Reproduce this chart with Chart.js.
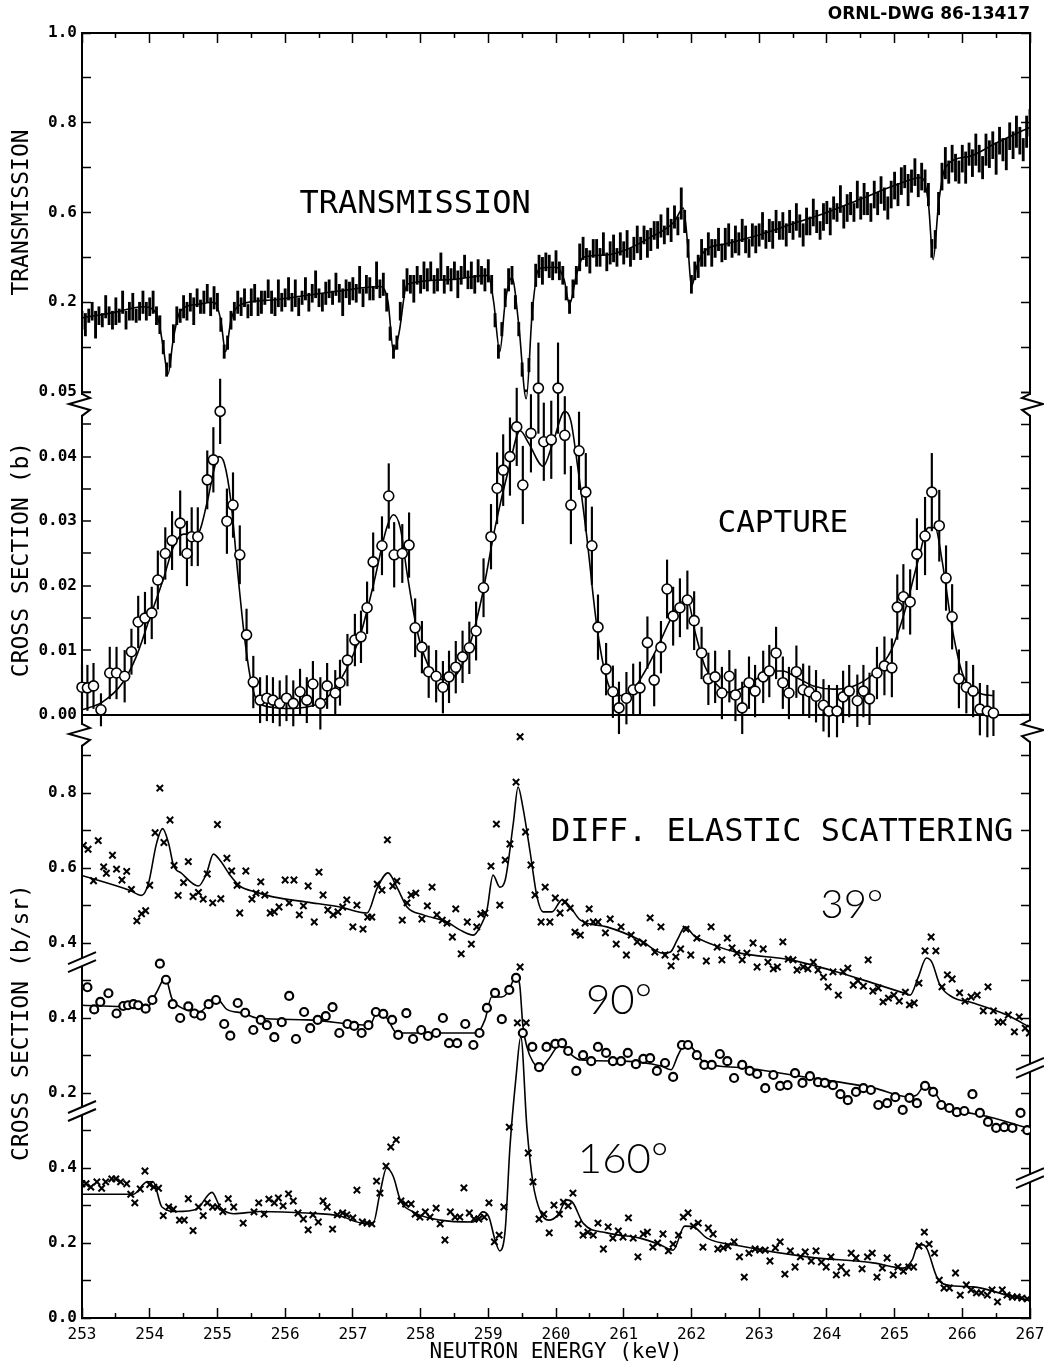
<!DOCTYPE html>
<html>
<head>
<meta charset="utf-8">
<title>ORNL-DWG 86-13417</title>
<script src="https://cdn.jsdelivr.net/npm/chart.js@4.4.1/dist/chart.umd.min.js"></script>
<style>
  html, body { margin: 0; padding: 0; background: #fff; }
  canvas { display: block; }
</style>
</head>
<body>
<canvas id="chart" width="1044" height="1363"></canvas>
<script>
// ---- tick positions and printed labels ----
const energyTicks = [253, 254, 255, 256, 257, 258, 259, 260, 261, 262, 263, 264, 265, 266, 267];
const energyHalfTicks = [253.5, 254.5, 255.5, 256.5, 257.5, 258.5, 259.5, 260.5, 261.5, 262.5, 263.5, 264.5, 265.5, 266.5];
const transTicks = [0.2, 0.3, 0.4, 0.5, 0.6, 0.7, 0.8, 0.9, 1.0];
const transLabels = ['', '', '0.2', '', '0.6', '', '0.8', '', '1.0'];
const capTicks = [0, 0.005, 0.01, 0.015, 0.02, 0.025, 0.03, 0.035, 0.04, 0.045, 0.05];
const capLabels = ['0.00', '', '0.01', '', '0.02', '', '0.03', '', '0.04', '', '0.05'];
// elastic panel: 160° on its own scale, 90° and 39° drawn on shifted scales
const elTicks = [0, 0.1, 0.2, 0.3, 0.4, 0.5, 0.6, 0.7, 0.8, 0.9, 1.0, 1.1, 1.2, 1.3, 1.4, 1.5];
const elLabels = ['0.0', '', '0.2', '', '0.4', '', '0.2', '', '0.4', '', '0.4', '', '0.6', '', '0.8', ''];

// ---- transmission: channels every 0.05 keV from 253 keV ----
const transStart = 253, transStep = 0.05;
const transVal = [
  0.36,0.35,0.37,0.38,0.35,0.37,0.36,0.39,0.37,0.36,0.38,0.37,0.40,0.36,0.38,0.39,0.37,0.38,0.40,0.38,
  0.39,0.40,0.37,0.35,0.30,0.25,0.27,0.33,0.37,0.37,0.39,0.38,0.40,0.38,0.41,0.39,0.40,0.42,0.39,0.41,
  0.40,0.35,0.29,0.31,0.36,0.38,0.40,0.39,0.41,0.38,0.40,0.42,0.39,0.40,0.41,0.43,0.40,0.39,0.42,0.40,
  0.41,0.43,0.40,0.42,0.39,0.41,0.43,0.40,0.42,0.44,0.41,0.40,0.42,0.43,0.41,0.44,0.42,0.40,0.43,0.42,
  0.43,0.42,0.45,0.41,0.44,0.43,0.42,0.46,0.43,0.44,0.40,0.33,0.29,0.31,0.38,0.43,0.45,0.44,0.43,0.46,
  0.44,0.46,0.45,0.47,0.44,0.45,0.48,0.44,0.46,0.45,0.47,0.44,0.46,0.48,0.45,0.46,0.44,0.47,0.46,0.45,
  0.47,0.44,0.36,0.29,0.34,0.41,0.45,0.46,0.40,0.34,0.25,0.19,0.26,0.38,0.46,0.48,0.47,0.49,0.48,0.47,
  0.49,0.47,0.46,0.42,0.39,0.43,0.46,0.50,0.52,0.50,0.49,0.52,0.51,0.50,0.53,0.49,0.51,0.52,0.50,0.53,
  0.51,0.53,0.50,0.52,0.54,0.52,0.55,0.53,0.54,0.56,0.55,0.57,0.55,0.58,0.56,0.59,0.57,0.62,0.58,0.52,
  0.44,0.47,0.48,0.51,0.50,0.53,0.51,0.52,0.54,0.51,0.53,0.55,0.52,0.54,0.53,0.56,0.54,0.52,0.55,0.54,
  0.55,0.57,0.54,0.56,0.55,0.58,0.56,0.57,0.55,0.58,0.56,0.59,0.57,0.55,0.58,0.57,0.60,0.58,0.56,0.59,
  0.60,0.58,0.61,0.60,0.63,0.59,0.61,0.62,0.60,0.64,0.61,0.63,0.62,0.60,0.64,0.62,0.65,0.63,0.61,0.64,
  0.66,0.64,0.67,0.68,0.65,0.67,0.69,0.66,0.68,0.67,0.64,0.52,0.54,0.62,0.68,0.71,0.69,0.72,0.70,0.69,
  0.72,0.70,0.73,0.71,0.74,0.72,0.70,0.74,0.73,0.75,0.72,0.76,0.74,0.73,0.77,0.75,0.78,0.76,0.74,0.78,
  0.80
];
const transErr = [
  .02,.025,.015,.02,.03,.02,.015,.025,.02,.02,.03,.015,.025,.02,.02,.03,.015,.02,.025,.02,
  .02,.025,.02,.02,.015,.015,.015,.02,.02,.015,.025,.02,.02,.03,.02,.015,.025,.02,.02,.025,
  .02,.015,.015,.015,.02,.02,.025,.02,.02,.015,.03,.02,.02,.025,.015,.02,.025,.02,.03,.02,
  .02,.025,.02,.03,.02,.015,.025,.02,.02,.03,.02,.02,.025,.02,.015,.025,.02,.03,.02,.025,
  .025,.02,.03,.02,.02,.025,.015,.03,.02,.025,.02,.015,.015,.015,.02,.02,.025,.02,.03,.02,
  .02,.03,.025,.02,.02,.025,.03,.02,.02,.025,.02,.03,.02,.025,.02,.03,.02,.025,.02,.025,
  .025,.02,.015,.015,.015,.02,.025,.02,.015,.015,.015,.015,.015,.02,.025,.025,.03,.02,.025,.02,
  .025,.02,.02,.015,.015,.02,.02,.03,.025,.02,.025,.02,.03,.02,.025,.02,.025,.03,.02,.025,
  .025,.03,.02,.025,.03,.025,.02,.03,.025,.02,.03,.025,.02,.03,.025,.025,.02,.035,.025,.02,
  .02,.02,.025,.03,.02,.025,.03,.02,.025,.02,.035,.025,.02,.03,.025,.025,.03,.02,.025,.03,
  .025,.03,.02,.025,.03,.025,.02,.03,.025,.025,.02,.03,.025,.025,.03,.02,.03,.025,.02,.03,
  .025,.03,.025,.02,.03,.025,.03,.025,.02,.03,.025,.035,.025,.02,.03,.025,.03,.025,.025,.03,
  .03,.025,.03,.025,.035,.025,.03,.025,.03,.025,.025,.02,.02,.025,.03,.035,.025,.03,.03,.025,
  .03,.035,.025,.03,.035,.03,.025,.035,.03,.03,.035,.03,.025,.035,.03,.03,.035,.03,.025,.035,
  .03
];
const transFit = [
  [253.0,0.365],[253.5,0.378],[253.9,0.390],[254.1,0.375],[254.2,0.300],[254.27,0.240],[254.35,0.320],
  [254.45,0.380],[254.7,0.395],[254.95,0.400],[255.05,0.360],[255.12,0.290],[255.2,0.360],[255.35,0.395],
  [255.8,0.405],[256.3,0.415],[256.8,0.425],[257.4,0.435],[257.52,0.400],[257.6,0.290],[257.68,0.330],
  [257.8,0.440],[258.4,0.450],[259.0,0.460],[259.08,0.400],[259.17,0.290],[259.25,0.400],[259.35,0.455],
  [259.45,0.350],[259.56,0.185],[259.65,0.380],[259.75,0.475],[260.0,0.478],[260.12,0.450],[260.2,0.395],
  [260.3,0.460],[260.4,0.500],[260.7,0.505],[261.0,0.515],[261.4,0.545],[261.75,0.580],[261.88,0.610],
  [261.95,0.520],[262.0,0.435],[262.08,0.480],[262.2,0.515],[262.5,0.530],[263.0,0.550],[263.5,0.575],
  [264.0,0.600],[264.5,0.630],[265.0,0.660],[265.4,0.678],[265.5,0.620],[265.57,0.495],[265.65,0.620],
  [265.75,0.700],[266.1,0.725],[266.5,0.755],[267.0,0.790]
];

// ---- capture: [energy keV, cross section b, error b] ----
const capture = [
  [253.00,0.0043,0.0035],[253.08,0.0042,0.0035],[253.17,0.0045,0.0035],[253.28,0.0008,0.0025],[253.41,0.0065,0.004],
  [253.51,0.0065,0.004],[253.63,0.0060,0.004],[253.73,0.0098,0.0035],[253.83,0.0144,0.004],[253.93,0.0150,0.004],
  [254.03,0.0158,0.004],[254.12,0.0209,0.0045],[254.23,0.0250,0.004],[254.33,0.0270,0.0045],[254.45,0.0297,0.005],
  [254.55,0.0250,0.005],[254.62,0.0276,0.0045],[254.71,0.0276,0.0045],[254.85,0.0364,0.0045],[254.94,0.0395,0.005],
  [255.04,0.0470,0.005],[255.14,0.0300,0.005],[255.23,0.0325,0.005],[255.33,0.0248,0.0045],[255.43,0.0124,0.004],
  [255.53,0.0051,0.004],[255.63,0.0023,0.0035],[255.73,0.0026,0.0035],[255.82,0.0023,0.0035],[255.92,0.0018,0.0035],
  [256.02,0.0026,0.0035],[256.12,0.0018,0.0035],[256.22,0.0036,0.0035],[256.32,0.0023,0.0035],[256.41,0.0048,0.0035],
  [256.52,0.0018,0.004],[256.62,0.0045,0.0035],[256.74,0.0034,0.0035],[256.81,0.0050,0.0035],[256.92,0.0085,0.004],
  [257.03,0.0116,0.004],[257.12,0.0121,0.004],[257.21,0.0166,0.004],[257.30,0.0237,0.0045],[257.43,0.0262,0.0045],
  [257.53,0.0339,0.005],[257.61,0.0248,0.005],[257.73,0.0250,0.0045],[257.83,0.0263,0.005],[257.92,0.0135,0.0045],
  [258.02,0.0105,0.004],[258.12,0.0067,0.004],[258.23,0.0060,0.004],[258.33,0.0043,0.004],[258.42,0.0059,0.004],
  [258.52,0.0074,0.004],[258.62,0.0090,0.004],[258.72,0.0104,0.004],[258.82,0.0130,0.0045],[258.93,0.0197,0.0045],
  [259.04,0.0276,0.005],[259.13,0.0351,0.0055],[259.22,0.0379,0.0055],[259.32,0.0400,0.006],[259.42,0.0446,0.006],
  [259.51,0.0356,0.006],[259.63,0.0436,0.006],[259.74,0.0506,0.007],[259.82,0.0423,0.006],[259.93,0.0426,0.006],
  [260.03,0.0506,0.007],[260.13,0.0433,0.006],[260.22,0.0325,0.006],[260.34,0.0409,0.006],[260.44,0.0345,0.006],
  [260.53,0.0262,0.006],[260.62,0.0136,0.005],[260.74,0.0071,0.004],[260.84,0.0036,0.004],[260.93,0.0011,0.004],
  [261.04,0.0026,0.004],[261.14,0.0039,0.004],[261.24,0.0042,0.004],[261.35,0.0112,0.004],[261.45,0.0054,0.004],
  [261.55,0.0105,0.004],[261.64,0.0195,0.0045],[261.73,0.0153,0.0045],[261.83,0.0166,0.0045],[261.94,0.0178,0.0045],
  [262.04,0.0146,0.0045],[262.15,0.0096,0.004],[262.25,0.0056,0.004],[262.35,0.0059,0.004],[262.45,0.0034,0.004],
  [262.56,0.0060,0.004],[262.65,0.0031,0.004],[262.75,0.0011,0.004],[262.85,0.0050,0.004],[262.94,0.0037,0.004],
  [263.06,0.0059,0.004],[263.15,0.0068,0.004],[263.25,0.0096,0.004],[263.35,0.0050,0.004],[263.44,0.0034,0.004],
  [263.55,0.0067,0.004],[263.65,0.0039,0.004],[263.74,0.0036,0.004],[263.84,0.0029,0.004],[263.95,0.0015,0.004],
  [264.03,0.0006,0.004],[264.15,0.0006,0.004],[264.24,0.0028,0.004],[264.33,0.0037,0.004],[264.45,0.0022,0.004],
  [264.54,0.0037,0.004],[264.63,0.0025,0.004],[264.74,0.0065,0.004],[264.85,0.0076,0.0045],[264.96,0.0073,0.0045],
  [265.04,0.0167,0.005],[265.13,0.0183,0.005],[265.23,0.0175,0.005],[265.33,0.0249,0.0055],[265.45,0.0277,0.006],
  [265.55,0.0345,0.006],[265.66,0.0293,0.0055],[265.76,0.0212,0.005],[265.85,0.0152,0.005],[265.95,0.0056,0.0045],
  [266.06,0.0043,0.004],[266.16,0.0037,0.004],[266.26,0.0009,0.004],[266.37,0.0006,0.004],[266.46,0.0003,0.0035]
];
const captureFit = [
  [253.0,0.0008],[253.3,0.002],[253.6,0.005],[253.8,0.009],[254.0,0.015],[254.2,0.021],[254.35,0.026],[254.5,0.028],
  [254.7,0.028],[254.85,0.033],[254.95,0.038],[255.02,0.040],[255.1,0.039],[255.2,0.033],[255.3,0.022],[255.4,0.012],
  [255.5,0.005],[255.6,0.002],[255.8,0.0012],[256.0,0.001],[256.3,0.0012],[256.6,0.0025],[256.9,0.007],[257.1,0.012],
  [257.3,0.020],[257.5,0.029],[257.6,0.031],[257.7,0.029],[257.8,0.022],[257.95,0.013],[258.1,0.008],[258.3,0.0055],
  [258.5,0.006],[258.7,0.010],[258.9,0.018],[259.1,0.029],[259.3,0.038],[259.47,0.044],[259.6,0.042],[259.81,0.0385],
  [259.95,0.042],[260.13,0.047],[260.22,0.0455],[260.3,0.040],[260.45,0.028],[260.6,0.014],[260.75,0.0055],[260.9,0.003],
  [261.1,0.0035],[261.3,0.0065],[261.5,0.0105],[261.7,0.015],[261.85,0.0175],[261.95,0.0175],[262.05,0.013],[262.2,0.0075],
  [262.35,0.005],[262.55,0.0035],[262.75,0.0042],[263.0,0.0058],[263.2,0.0068],[263.35,0.0068],[263.55,0.0058],[263.8,0.0045],
  [264.1,0.004],[264.4,0.0045],[264.7,0.0065],[264.95,0.010],[265.15,0.016],[265.35,0.024],[265.5,0.029],[265.6,0.029],
  [265.7,0.024],[265.85,0.0135],[266.0,0.0065],[266.15,0.004],[266.3,0.0032],[266.45,0.003]
];

// ---- differential elastic scattering, b/sr: [energy keV, value] ----
const scat39 = [
  [253.02,0.660],[253.09,0.650],[253.17,0.566],[253.24,0.673],[253.32,0.603],[253.36,0.586],[253.45,0.634],[253.51,0.597],
  [253.59,0.568],[253.66,0.591],[253.73,0.543],[253.81,0.459],[253.88,0.478],[253.94,0.486],[254.00,0.554],[254.08,0.694],
  [254.15,0.813],[254.21,0.668],[254.30,0.728],[254.36,0.607],[254.42,0.527],[254.50,0.561],[254.57,0.617],[254.64,0.524],
  [254.72,0.535],[254.79,0.517],[254.85,0.584],[254.93,0.507],[255.00,0.716],[255.05,0.518],[255.14,0.626],[255.21,0.592],
  [255.29,0.554],[255.33,0.480],[255.42,0.592],[255.51,0.517],[255.57,0.533],[255.64,0.563],[255.70,0.528],[255.78,0.480],
  [255.84,0.483],[255.91,0.496],[256.00,0.568],[256.06,0.507],[256.13,0.568],[256.21,0.475],[256.27,0.499],[256.34,0.552],
  [256.43,0.456],[256.50,0.589],[256.56,0.528],[256.63,0.488],[256.71,0.475],[256.78,0.483],[256.85,0.496],[256.91,0.515],
  [257.00,0.443],[257.06,0.501],[257.15,0.437],[257.22,0.469],[257.28,0.469],[257.36,0.557],[257.43,0.541],[257.51,0.675],
  [257.59,0.552],[257.65,0.565],[257.73,0.461],[257.80,0.507],[257.86,0.528],[257.93,0.533],[258.02,0.464],[258.10,0.499],
  [258.17,0.549],[258.24,0.475],[258.32,0.461],[258.39,0.453],[258.47,0.416],[258.52,0.491],[258.60,0.371],[258.69,0.456],
  [258.75,0.397],[258.83,0.443],[258.89,0.477],[258.95,0.480],[259.04,0.605],[259.12,0.717],[259.17,0.501],[259.25,0.621],
  [259.32,0.664],[259.41,0.829],[259.47,0.950],[259.55,0.696],[259.63,0.608],[259.69,0.528],[259.78,0.456],[259.84,0.549],
  [259.91,0.456],[259.99,0.520],[260.06,0.480],[260.13,0.509],[260.21,0.493],[260.28,0.429],[260.36,0.421],[260.43,0.453],
  [260.49,0.491],[260.55,0.456],[260.62,0.456],[260.73,0.427],[260.80,0.464],[260.89,0.397],[260.96,0.443],[261.04,0.368],
  [261.11,0.421],[261.20,0.403],[261.29,0.400],[261.39,0.467],[261.46,0.376],[261.55,0.443],[261.61,0.368],[261.70,0.339],
  [261.77,0.363],[261.84,0.384],[261.92,0.437],[261.99,0.368],[262.08,0.413],[262.22,0.352],[262.29,0.443],[262.38,0.389],
  [262.45,0.355],[262.53,0.413],[262.60,0.387],[262.67,0.373],[262.75,0.355],[262.82,0.373],[262.91,0.400],[262.97,0.336],
  [263.06,0.384],[263.13,0.349],[263.21,0.331],[263.27,0.336],[263.35,0.403],[263.43,0.357],[263.50,0.355],[263.56,0.328],
  [263.65,0.336],[263.72,0.331],[263.80,0.349],[263.87,0.328],[263.95,0.309],[264.02,0.283],[264.09,0.323],[264.17,0.261],
  [264.24,0.323],[264.31,0.333],[264.39,0.288],[264.46,0.299],[264.54,0.285],[264.61,0.355],[264.68,0.272],[264.76,0.280],
  [264.83,0.243],[264.91,0.253],[264.99,0.261],[265.07,0.245],[265.16,0.269],[265.22,0.235],[265.29,0.240],[265.36,0.293],
  [265.45,0.379],[265.54,0.416],[265.61,0.379],[265.70,0.283],[265.78,0.315],[265.85,0.304],[265.96,0.267],[266.04,0.245],
  [266.13,0.256],[266.22,0.261],[266.31,0.219],[266.38,0.283],[266.46,0.219],[266.53,0.189],[266.60,0.189],[266.68,0.208],
  [266.77,0.163],[266.84,0.203],[266.93,0.173],[266.99,0.160]
];
const fit39 = [
  [253.00,0.580],[253.71,0.540],[253.88,0.527],[253.98,0.558],[254.10,0.665],[254.19,0.705],[254.28,0.665],[254.35,0.608],
  [254.47,0.586],[254.72,0.552],[254.84,0.586],[254.94,0.637],[255.04,0.620],[255.19,0.580],[255.33,0.552],[255.58,0.535],
  [255.82,0.523],[256.32,0.509],[256.81,0.496],[257.21,0.480],[257.36,0.547],[257.52,0.587],[257.65,0.549],[257.80,0.496],
  [258.04,0.475],[258.39,0.456],[258.58,0.435],[258.78,0.421],[258.88,0.443],[258.98,0.488],[259.07,0.581],[259.17,0.549],
  [259.25,0.568],[259.37,0.720],[259.44,0.816],[259.51,0.763],[259.62,0.640],[259.72,0.523],[259.81,0.483],[259.94,0.483],
  [260.09,0.515],[260.21,0.496],[260.36,0.461],[260.75,0.443],[261.24,0.408],[261.58,0.373],[261.69,0.376],[261.79,0.408],
  [261.91,0.443],[262.03,0.421],[262.32,0.395],[262.72,0.373],[263.46,0.355],[264.20,0.320],[264.68,0.293],[265.13,0.267],
  [265.23,0.261],[265.35,0.309],[265.47,0.360],[265.55,0.349],[265.67,0.288],[265.85,0.256],[266.16,0.240],[266.66,0.208],
  [267.00,0.175]
];
const scat90 = [
  [253.08,0.482],[253.18,0.423],[253.27,0.443],[253.39,0.466],[253.51,0.412],[253.61,0.432],[253.68,0.434],[253.76,0.437],
  [253.83,0.434],[253.94,0.425],[254.04,0.448],[254.15,0.545],[254.24,0.502],[254.34,0.437],[254.45,0.400],[254.57,0.431],
  [254.66,0.412],[254.76,0.406],[254.87,0.437],[254.98,0.448],[255.10,0.384],[255.19,0.353],[255.30,0.440],[255.41,0.414],
  [255.53,0.368],[255.64,0.395],[255.73,0.381],[255.84,0.349],[255.95,0.389],[256.06,0.459],[256.16,0.344],[256.28,0.416],
  [256.37,0.373],[256.48,0.395],[256.60,0.405],[256.70,0.429],[256.80,0.360],[256.92,0.384],[257.02,0.379],[257.13,0.360],
  [257.23,0.381],[257.34,0.416],[257.45,0.411],[257.58,0.395],[257.67,0.355],[257.79,0.413],[257.89,0.344],[258.01,0.368],
  [258.11,0.352],[258.23,0.360],[258.33,0.400],[258.42,0.333],[258.54,0.333],[258.66,0.384],[258.78,0.328],[258.87,0.360],
  [258.98,0.427],[259.10,0.467],[259.20,0.397],[259.31,0.475],[259.41,0.507],[259.51,0.360],[259.65,0.323],[259.75,0.269],
  [259.86,0.323],[259.99,0.331],[260.09,0.333],[260.18,0.312],[260.30,0.259],[260.40,0.301],[260.52,0.285],[260.62,0.323],
  [260.74,0.307],[260.84,0.285],[260.96,0.285],[261.06,0.307],[261.18,0.277],[261.29,0.291],[261.39,0.293],[261.49,0.259],
  [261.61,0.280],[261.73,0.243],[261.86,0.328],[261.95,0.328],[262.08,0.301],[262.19,0.275],[262.30,0.275],[262.42,0.304],
  [262.53,0.285],[262.63,0.240],[262.75,0.275],[262.86,0.259],[262.97,0.251],[263.09,0.213],[263.21,0.248],[263.31,0.219],
  [263.42,0.221],[263.53,0.253],[263.64,0.227],[263.75,0.245],[263.87,0.229],[263.97,0.227],[264.09,0.221],[264.20,0.197],
  [264.31,0.181],[264.43,0.203],[264.54,0.213],[264.65,0.208],[264.76,0.168],[264.89,0.173],[265.01,0.189],[265.12,0.155],
  [265.22,0.187],[265.33,0.173],[265.45,0.219],[265.57,0.203],[265.69,0.168],[265.81,0.160],[265.92,0.149],[266.03,0.152],
  [266.15,0.197],[266.26,0.147],[266.38,0.123],[266.50,0.107],[266.62,0.109],[266.74,0.107],[266.86,0.147],[266.96,0.101]
];
const fit90 = [
  [253.00,0.434],[253.96,0.429],[254.10,0.468],[254.23,0.507],[254.33,0.451],[254.45,0.429],[254.74,0.417],[254.89,0.440],
  [254.99,0.451],[255.14,0.423],[255.38,0.413],[255.58,0.400],[256.32,0.395],[257.25,0.381],[257.36,0.416],[257.50,0.400],
  [257.65,0.360],[258.30,0.360],[258.83,0.360],[258.95,0.395],[259.05,0.456],[259.20,0.456],[259.29,0.469],[259.40,0.507],
  [259.46,0.493],[259.51,0.381],[259.57,0.323],[259.66,0.283],[259.77,0.267],[259.88,0.288],[260.06,0.328],[260.18,0.309],
  [260.36,0.288],[261.00,0.285],[261.55,0.272],[261.70,0.262],[261.80,0.300],[261.90,0.328],[262.00,0.322],[262.20,0.280],
  [262.70,0.268],[263.70,0.242],[264.70,0.213],[265.20,0.190],[265.33,0.195],[265.45,0.221],[265.57,0.208],[265.70,0.173],
  [265.92,0.155],[266.40,0.136],[267.00,0.105]
];
const scat160 = [
  [253.00,0.358],[253.06,0.358],[253.13,0.349],[253.22,0.363],[253.29,0.346],[253.35,0.363],[253.44,0.371],[253.50,0.371],
  [253.57,0.363],[253.66,0.358],[253.72,0.330],[253.78,0.307],[253.86,0.344],[253.93,0.392],[254.00,0.356],[254.06,0.349],
  [254.13,0.346],[254.20,0.273],[254.28,0.296],[254.35,0.290],[254.44,0.261],[254.51,0.261],[254.57,0.318],[254.64,0.233],
  [254.72,0.296],[254.79,0.273],[254.85,0.307],[254.93,0.296],[255.00,0.296],[255.08,0.284],[255.16,0.318],[255.24,0.296],
  [255.38,0.253],[255.54,0.283],[255.61,0.307],[255.69,0.277],[255.76,0.317],[255.84,0.307],[255.90,0.320],[255.97,0.299],
  [256.05,0.331],[256.12,0.312],[256.19,0.280],[256.27,0.264],[256.34,0.235],[256.41,0.275],[256.49,0.256],[256.56,0.312],
  [256.62,0.296],[256.70,0.237],[256.77,0.275],[256.85,0.280],[256.91,0.275],[257.00,0.267],[257.06,0.341],[257.14,0.256],
  [257.21,0.253],[257.28,0.251],[257.35,0.365],[257.40,0.333],[257.49,0.405],[257.56,0.456],[257.64,0.475],[257.71,0.312],
  [257.78,0.304],[257.86,0.304],[257.92,0.277],[257.99,0.269],[258.07,0.283],[258.14,0.269],[258.23,0.293],[258.29,0.251],
  [258.36,0.208],[258.44,0.283],[258.51,0.269],[258.58,0.269],[258.64,0.347],[258.72,0.280],[258.79,0.264],[258.86,0.264],
  [258.94,0.269],[259.01,0.307],[259.09,0.203],[259.16,0.221],[259.23,0.296],[259.31,0.509],[259.43,0.787],[259.47,0.936],
  [259.56,0.787],[259.59,0.440],[259.66,0.363],[259.75,0.264],[259.82,0.277],[259.90,0.227],[259.97,0.301],[260.05,0.277],
  [260.11,0.309],[260.18,0.299],[260.25,0.333],[260.33,0.251],[260.40,0.221],[260.47,0.229],[260.55,0.221],[260.62,0.253],
  [260.70,0.184],[260.77,0.243],[260.84,0.213],[260.92,0.232],[260.99,0.216],[261.07,0.267],[261.14,0.213],[261.21,0.163],
  [261.29,0.224],[261.35,0.229],[261.43,0.189],[261.50,0.200],[261.58,0.224],[261.66,0.179],[261.73,0.197],[261.81,0.221],
  [261.88,0.269],[261.95,0.280],[262.03,0.245],[262.10,0.253],[262.17,0.189],[262.25,0.240],[262.32,0.224],[262.39,0.184],
  [262.47,0.187],[262.54,0.192],[262.63,0.203],[262.71,0.163],[262.78,0.109],[262.85,0.173],[262.94,0.184],[263.01,0.181],
  [263.09,0.181],[263.16,0.152],[263.24,0.187],[263.31,0.203],[263.38,0.117],[263.46,0.179],[263.53,0.136],[263.61,0.163],
  [263.68,0.176],[263.77,0.152],[263.84,0.179],[263.92,0.149],[263.99,0.136],[264.06,0.163],[264.14,0.115],[264.21,0.136],
  [264.29,0.120],[264.36,0.173],[264.43,0.160],[264.52,0.131],[264.60,0.163],[264.67,0.173],[264.74,0.109],[264.82,0.133],
  [264.89,0.160],[264.98,0.115],[265.05,0.136],[265.13,0.125],[265.21,0.136],[265.28,0.136],[265.36,0.192],[265.44,0.229],
  [265.51,0.197],[265.59,0.173],[265.66,0.101],[265.73,0.080],[265.81,0.080],[265.90,0.120],[265.97,0.061],[266.06,0.088],
  [266.13,0.075],[266.21,0.067],[266.28,0.067],[266.37,0.061],[266.44,0.075],[266.52,0.043],[266.59,0.075],[266.66,0.061],
  [266.74,0.056],[266.81,0.056],[266.88,0.053],[266.96,0.051]
];
const fit160 = [
  [253.00,0.330],[253.76,0.330],[253.96,0.363],[254.05,0.363],[254.18,0.296],[254.40,0.284],[254.69,0.290],[254.92,0.335],
  [255.04,0.296],[255.24,0.278],[255.63,0.284],[256.32,0.280],[256.81,0.272],[257.15,0.253],[257.30,0.253],[257.40,0.333],
  [257.50,0.400],[257.60,0.376],[257.70,0.315],[257.89,0.283],[258.29,0.261],[258.78,0.256],[258.92,0.283],[259.01,0.269],
  [259.10,0.208],[259.17,0.179],[259.25,0.235],[259.32,0.456],[259.41,0.643],[259.48,0.750],[259.57,0.509],[259.66,0.360],
  [259.77,0.283],[259.89,0.261],[260.03,0.275],[260.16,0.315],[260.25,0.307],[260.40,0.253],[260.75,0.227],[261.24,0.213],
  [261.54,0.195],[261.73,0.181],[261.90,0.245],[262.03,0.243],[262.23,0.213],[262.72,0.192],[263.71,0.163],[264.68,0.147],
  [265.13,0.133],[265.26,0.155],[265.35,0.195],[265.42,0.195],[265.48,0.184],[265.63,0.107],[265.78,0.088],[266.16,0.083],
  [266.66,0.061],[266.97,0.048]
];

// ---- text inside the plot and axis breaks ----
const MONO = "'DejaVu Sans Mono'";
const notes = [
  { text: 'TRANSMISSION', e: 257.92, axis: 'yT', v: 0.617, font: "32px " + MONO },
  { text: 'CAPTURE', e: 263.35, axis: 'yC', v: 0.0296, font: "31px " + MONO },
  { text: 'DIFF. ELASTIC SCATTERING', e: 263.34, axis: 'yE', v: 1.293, font: "32px " + MONO },
  { text: '39°', e: 264.37, axis: 'yE', v: 1.101, font: "300 40px Lato" },
  { text: '90°', e: 260.93, axis: 'yE', v: 0.848, font: "300 42px Lato" },
  { text: '160°', e: 260.99, axis: 'yE', v: 0.424, font: "300 42px Lato" }
];
const breaks = [
  { side: 'left', axis: 'yC', v: 0.048, kind: 'zig' },
  { side: 'right', axis: 'yC', v: 0.048, kind: 'zig' },
  { side: 'left', axis: 'yE', v: 1.555, kind: 'zig' },
  { side: 'right', axis: 'yE', v: 1.565, kind: 'zig' },
  { side: 'left', axis: 'yE', v: 0.949, kind: 'slash' },
  { side: 'left', axis: 'yE', v: 0.552, kind: 'slash' },
  { side: 'right', axis: 'yE', v: 0.667, kind: 'slash' },
  { side: 'right', axis: 'yE', v: 0.373, kind: 'slash' }
];

const overlay = {
  id: 'overlay',
  afterDraw(chart) {
    const { ctx, scales, chartArea } = chart;
    ctx.save();
    ctx.fillStyle = '#000';
    ctx.textAlign = 'center';
    ctx.textBaseline = 'middle';
    notes.forEach(n => {
      ctx.font = n.font;
      ctx.fillText(n.text, scales.x.getPixelForValue(n.e), scales[n.axis].getPixelForValue(n.v));
    });
    ctx.lineWidth = 2;
    ctx.strokeStyle = '#000';
    breaks.forEach(b => {
      const x = b.side === 'left' ? chartArea.left : chartArea.right;
      const y = scales[b.axis].getPixelForValue(b.v);
      const d = b.side === 'left' ? 1 : -1;
      ctx.fillStyle = '#fff';
      ctx.beginPath();
      if (b.kind === 'zig') {
        ctx.fillRect(x - 3, y - 10, 6, 20);
        ctx.moveTo(x, y - 11);
        ctx.lineTo(x + 8 * d, y - 7);
        ctx.lineTo(x - 13 * d, y - 1);
        ctx.lineTo(x + 8 * d, y + 5);
        ctx.lineTo(x, y + 11);
      } else {
        ctx.fillRect(x - 3, y - 4, 6, 8);
        [-4, 4].forEach(o => {
          ctx.moveTo(x - 14, y + o + 6);
          ctx.lineTo(x + 14, y + o - 6);
        });
      }
      ctx.stroke();
    });
    ctx.restore();
  }
};

// ---- scales ----
const setTicks = list => scale => { scale.ticks = list.map(v => ({ value: v })); };
const frame = { display: true, color: '#000', width: 2 };
const tickFont = { family: MONO, size: 16, weight: 'bold' };
const titleFont = { family: MONO, size: 23 };
const H = { T: 359, C: 335, E: 591 }; // panel heights in px

function leftAxis(weight, stackWeight, min, max, ticks, labels, title) {
  return {
    type: 'linear', position: 'left', stack: 'L', stackWeight, weight, min, max,
    afterBuildTicks: setTicks(ticks),
    afterFit: s => { s.width = 74; },
    ticks: { color: '#000', font: tickFont, padding: 14, autoSkip: false, callback: (v, i) => labels[i] },
    grid: { drawOnChartArea: false, tickLength: -9, tickColor: '#000', tickWidth: 1.5 },
    border: frame,
    title: { display: true, text: title, color: '#000', font: titleFont, padding: 0 }
  };
}
function rightAxis(weight, stackWeight, min, max, ticks) {
  return {
    type: 'linear', position: 'right', stack: 'R', stackWeight, weight, min, max,
    afterBuildTicks: setTicks(ticks),
    afterFit: s => { s.width = 0; },
    ticks: { display: false },
    grid: { drawOnChartArea: false, tickLength: -9, tickColor: '#000', tickWidth: 1.5 },
    border: frame
  };
}
function hiddenAxis(stack, weight, stackWeight, min, max) {
  return { type: 'linear', position: 'right', stack, stackWeight, weight, min, max, display: false };
}
function energyAxis(position, weight, ticks, len, labelled) {
  return {
    type: 'linear', position, weight, min: 253, max: 267, offset: false,
    afterBuildTicks: setTicks(ticks),
    afterFit: s => {
      s.height = labelled ? 45 : 0;
      s.paddingLeft = 0;
      s.paddingRight = 0;
    },
    ticks: labelled
      ? { color: '#000', font: { family: MONO, size: 16 }, padding: 17, maxRotation: 0, autoSkip: false, callback: v => String(v) }
      : { display: false },
    grid: { drawOnChartArea: false, offset: false, tickLength: len, tickColor: '#000', tickWidth: 1.5 },
    border: labelled || position === 'top' ? frame : { display: false },
    title: labelled
      ? { display: true, text: 'NEUTRON ENERGY (keV)', color: '#000', font: { family: MONO, size: 21 }, padding: { top: 0, bottom: -2 } }
      : { display: false }
  };
}

const yC = leftAxis(2, H.C, -0.00186, 0.05, capTicks, capLabels, 'CROSS SECTION (b)');
yC.grid = Object.assign({}, yC.grid, {
  drawOnChartArea: true, lineWidth: 2,
  color: c => (c.tick && c.tick.value === 0 ? '#000' : 'rgba(0,0,0,0)')
});

const scales = {
  x: energyAxis('bottom', 1, energyTicks, -10, true),
  xm: energyAxis('bottom', 0, energyHalfTicks, -5, false),
  xt: energyAxis('top', 0, energyTicks, -10, false),
  xtm: energyAxis('top', 0, energyHalfTicks, -5, false),
  yT: leftAxis(3, H.T, 0.2, 1.0, transTicks, transLabels, 'TRANSMISSION'),
  yC,
  yE: leftAxis(1, H.E, 0, 1.576, elTicks, elLabels, 'CROSS SECTION (b/sr)'),
  yTr: rightAxis(1, H.T, 0.2, 1.0, transTicks),
  yCr: rightAxis(2, H.C, -0.00186, 0.05, capTicks),
  yEr: rightAxis(3, H.E, 0, 1.576, elTicks),
  h39T: hiddenAxis('S39', 1, H.T, 0, 1),
  h39C: hiddenAxis('S39', 2, H.C, 0, 1),
  y39: hiddenAxis('S39', 3, H.E, -0.6, 0.976),
  h90T: hiddenAxis('S90', 1, H.T, 0, 1),
  h90C: hiddenAxis('S90', 2, H.C, 0, 1),
  y90: hiddenAxis('S90', 3, H.E, -0.4, 1.176)
};

// ---- datasets ----
const pts = rows => rows.map(([x, y]) => ({ x, y }));
const bars = rows => rows.map(([x, y, e]) => ({ x, y: [y - e, y + e] }));
const curve = (rows, yAxisID, extra) => Object.assign({
  type: 'line', data: pts(rows), xAxisID: 'x', yAxisID, order: 2,
  borderColor: '#000', borderWidth: 1.6, pointRadius: 0, fill: false, cubicInterpolationMode: 'monotone'
}, extra);
const markers = (rows, yAxisID, style, extra) => Object.assign({
  type: 'line', data: pts(rows), xAxisID: 'x', yAxisID, showLine: false, order: 1,
  pointStyle: style, pointRadius: 4.5, borderColor: '#000', backgroundColor: '#fff', pointBorderWidth: 2
}, extra);
const errorBars = (rows, yAxisID, extra) => Object.assign({
  type: 'bar', data: bars(rows), xAxisID: 'x', yAxisID, grouped: false,
  backgroundColor: '#000', borderWidth: 0, barThickness: 1.5, order: 3
}, extra);

const transRows = transVal.map((v, i) => [transStart + i * transStep, v, transErr[i]]);

const datasets = [
  errorBars(transRows, 'yT', { barThickness: 2.2, order: 4 }),
  curve(transFit, 'yT', { clip: false }),
  errorBars(capture, 'yC', { clip: false }),
  curve(captureFit, 'yC'),
  markers(capture.map(r => [r[0], r[1]]), 'yC', 'circle', { pointRadius: 5, pointBorderWidth: 1.6, order: 0, clip: false }),
  curve(fit39, 'y39'),
  markers(scat39, 'y39', 'crossRot'),
  curve(fit90, 'y90'),
  markers(scat90, 'y90', 'circle', { pointRadius: 4, pointBorderWidth: 2.2 }),
  curve(fit160, 'yE'),
  markers(scat160, 'yE', 'crossRot')
];

new Chart(document.getElementById('chart').getContext('2d'), {
  type: 'line',
  data: { datasets },
  options: {
    responsive: false,
    animation: false,
    devicePixelRatio: 1,
    layout: { padding: { left: 8, right: 14, top: 0, bottom: 0 } },
    plugins: {
      legend: { display: false },
      tooltip: { enabled: false },
      title: {
        display: true, text: 'ORNL-DWG 86-13417', align: 'end', color: '#000',
        font: { family: "'DejaVu Sans'", size: 17, weight: 'bold' },
        padding: { top: 4, bottom: 8.6 }
      }
    },
    scales
  },
  plugins: [overlay]
});
</script>
</body>
</html>
